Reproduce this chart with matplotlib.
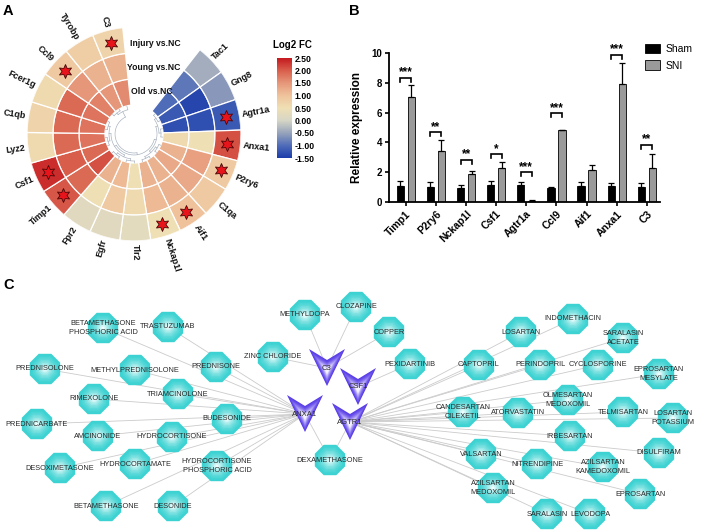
import numpy as np
import matplotlib
matplotlib.use('Agg')
import matplotlib.pyplot as plt
from matplotlib.colors import LinearSegmentedColormap, Normalize, to_rgb
from matplotlib.patches import Polygon
import matplotlib.cm as cm

plt.rcParams['font.family'] = ['Liberation Sans', 'DejaVu Sans']

# ---------------- Panel A data (Log2 FC) ----------------
heat_genes = ['Tac1', 'Gng8', 'Agtr1a', 'Anxa1', 'P2ry6', 'C1qa', 'Aif1', 'Nckap1l',
              'Tlr2', 'Egfr', 'Fpr2', 'Timp1', 'Csf1', 'Lyz2', 'C1qb', 'Fcer1g',
              'Ccl9', 'Tyrobp', 'C3']
injury_fc = [-0.4, -0.6, -1.2, 2.1, 0.9, 0.9, 1.0, 0.5, 0.25, 0.2, 0.2, 2.05, 2.35,
             0.6, 0.7, 0.6, 0.9, 0.8, 0.7]
young_fc = [-0.9, -1.4, -1.3, 0.5, 1.4, 1.3, 1.2, 1.1, 0.6, 0.9, 0.5, 1.9, 2.0,
            1.9, 1.9, 1.9, 1.5, 1.2, 1.2]
old_fc = [-1.0, -1.2, -1.3, 0.6, 1.2, 1.3, 1.2, 1.2, 0.5, 1.1, 1.2, 2.1, 1.9,
          1.8, 1.8, 1.8, 1.7, 1.5, 1.6]
starred = ['Agtr1a', 'Anxa1', 'P2ry6', 'Aif1', 'Nckap1l', 'Timp1', 'Csf1', 'Ccl9', 'C3']
comparisons = ['Old vs.NC', 'Young vs.NC', 'Injury vs.NC']
cbar_ticks = [-1.5, -1.0, -0.5, 0.0, 0.5, 1.0, 1.5, 2.0, 2.5]

# ---------------- Panel B data (qPCR) ----------------
qpcr_genes = ['Timp1', 'P2ry6', 'Nckap1l', 'Csf1', 'Agtr1a', 'Ccl9', 'Aif1', 'Anxa1', 'C3']
sham_mean = [1.1, 1.0, 0.95, 1.15, 1.15, 0.97, 1.05, 1.05, 1.0]
sham_sd = [0.3, 0.35, 0.17, 0.25, 0.2, 0.04, 0.3, 0.25, 0.28]
sni_mean = [7.05, 3.45, 1.9, 2.25, 0.08, 4.8, 2.15, 7.9, 2.3]
sni_sd = [0.8, 0.72, 0.2, 0.45, 0.03, 0.06, 0.3, 1.45, 0.95]
sig_marks = ['***', '**', '**', '*', '***', '***', '', '***', '**']
bracket_levels = [8.35, 4.68, 2.84, 3.22, 2.01, 5.97, None, 9.89, 3.85]

# ---------------- Panel C data (drug-gene network) ----------------
anxa1_drugs = ['BETAMETHASONE\nPHOSPHORIC ACID', 'TRASTUZUMAB', 'PREDNISONE', 'PREDNISOLONE',
               'METHYLPREDNISOLONE', 'TRIAMCINOLONE', 'RIMEXOLONE', 'BUDESONIDE',
               'PREDNICARBATE', 'AMCINONIDE', 'HYDROCORTISONE', 'DESOXIMETASONE',
               'HYDROCORTAMATE', 'HYDROCORTISONE\nPHOSPHORIC ACID', 'BETAMETHASONE',
               'DESONIDE', 'DEXAMETHASONE']
c3_drugs = ['ZINC CHLORIDE', 'METHYLDOPA', 'CLOZAPINE', 'COPPER']
csf1_drugs = ['PEXIDARTINIB']
agtr1_drugs = ['DEXAMETHASONE', 'LOSARTAN', 'INDOMETHACIN', 'SARALASIN\nACETATE', 'CAPTOPRIL',
               'PERINDOPRIL', 'CYCLOSPORINE', 'EPROSARTAN\nMESYLATE', 'OLMESARTAN\nMEDOXOMIL',
               'CANDESARTAN\nCILEXETIL', 'ATORVASTATIN', 'TELMISARTAN', 'LOSARTAN\nPOTASSIUM',
               'IRBESARTAN', 'DISULFIRAM', 'VALSARTAN', 'NITRENDIPINE',
               'AZILSARTAN\nKAMEDOXOMIL', 'AZILSARTAN\nMEDOXOMIL', 'EPROSARTAN',
               'SARALASIN', 'LEVODOPA']
target_genes = ['C3', 'CSF1', 'ANXA1', 'AGTR1']

# network layout (pixel coordinates of node centres)
layout = {
    'C3': (327, 368), 'CSF1': (358, 387), 'ANXA1': (305, 414), 'AGTR1': (350, 422),
    'BETAMETHASONE\nPHOSPHORIC ACID': (103, 328), 'TRASTUZUMAB': (168, 327),
    'PREDNISONE': (216, 367), 'ZINC CHLORIDE': (273, 357), 'METHYLDOPA': (305, 315),
    'CLOZAPINE': (356, 307), 'COPPER': (389, 332), 'PEXIDARTINIB': (410, 364),
    'PREDNISOLONE': (45, 369), 'METHYLPREDNISOLONE': (135, 370), 'TRIAMCINOLONE': (178, 394),
    'RIMEXOLONE': (94, 399), 'BUDESONIDE': (227, 419), 'PREDNICARBATE': (37, 424),
    'AMCINONIDE': (98, 436), 'HYDROCORTISONE': (172, 437), 'DEXAMETHASONE': (330, 460),
    'DESOXIMETASONE': (60, 468), 'HYDROCORTAMATE': (135, 464),
    'HYDROCORTISONE\nPHOSPHORIC ACID': (217, 466), 'BETAMETHASONE': (106, 506),
    'DESONIDE': (173, 506),
    'LOSARTAN': (521, 332), 'INDOMETHACIN': (573, 319), 'SARALASIN\nACETATE': (623, 338),
    'CAPTOPRIL': (479, 365), 'PERINDOPRIL': (540, 365), 'CYCLOSPORINE': (598, 365),
    'EPROSARTAN\nMESYLATE': (659, 374), 'OLMESARTAN\nMEDOXOMIL': (568, 400),
    'CANDESARTAN\nCILEXETIL': (463, 412), 'ATORVASTATIN': (518, 413), 'TELMISARTAN': (623, 412),
    'LOSARTAN\nPOTASSIUM': (673, 418), 'IRBESARTAN': (570, 436), 'DISULFIRAM': (659, 453),
    'VALSARTAN': (481, 454), 'NITRENDIPINE': (537, 464), 'AZILSARTAN\nKAMEDOXOMIL': (603, 467),
    'AZILSARTAN\nMEDOXOMIL': (493, 488), 'EPROSARTAN': (640, 494), 'SARALASIN': (547, 514),
    'LEVODOPA': (590, 514),
}

W, H = 708, 531
fig = plt.figure(figsize=(W / 100, H / 100), dpi=100)


def fx(px):
    return px / W


def fy(py):
    return 1 - py / H


# ======================= Panel C (drawn first, underneath) =======================
axC = fig.add_axes([0, 0, 1, (H - 280) / H])
axC.set_xlim(0, W)
axC.set_ylim(H, 280)
axC.axis('off')

edges = ([(d, 'ANXA1') for d in anxa1_drugs] + [(d, 'C3') for d in c3_drugs] +
         [(d, 'CSF1') for d in csf1_drugs] + [(d, 'AGTR1') for d in agtr1_drugs])
for d, g in edges:
    (x1, y1), (x2, y2) = layout[d], layout[g]
    axC.plot([x1, x2], [y1, y2], color='#cbcbcb', lw=0.6, zorder=1)

cyan_out = np.array(to_rgb('#3cd2d2'))
cyan_in = np.array(to_rgb('#eefcfc'))
ang = np.deg2rad(22.5 + 45 * np.arange(8))
oct_r = 15.2 / np.cos(np.deg2rad(22.5))
drugs = list(dict.fromkeys(anxa1_drugs + c3_drugs + csf1_drugs + agtr1_drugs))
nl = 10
for d in drugs:
    x, y = layout[d]
    for k in range(nl):
        s = 1 - k / nl
        t = (k / (nl - 1)) ** 1.6
        col = cyan_out * (1 - t) + cyan_in * t
        pts = np.column_stack([x + oct_r * s * np.cos(ang), y + oct_r * s * np.sin(ang)])
        axC.add_patch(Polygon(pts, closed=True, facecolor=col, edgecolor='none', zorder=2))
    axC.text(x, y, d, ha='center', va='center', fontsize=5.3, color='#2a2a2a',
             linespacing=1.35, zorder=5)

purple_out = np.array(to_rgb('#5a3ee8'))
purple_in = np.array(to_rgb('#f4f2ff'))
vshape = np.array([[-18, -19], [0, -8], [18, -19], [0, 18]], dtype=float)
vcen = np.array([0, 3.0])
for g in target_genes:
    x, y = layout[g]
    for k in range(nl):
        s = 1 - 0.88 * k / nl
        t = (k / (nl - 1)) ** 1.5
        col = purple_out * (1 - t) + purple_in * t
        pts = (vshape - vcen) * s + vcen + np.array([x, y])
        axC.add_patch(Polygon(pts, closed=True, facecolor=col, edgecolor='none', zorder=3))
    axC.text(x, y, g, ha='center', va='center', fontsize=5.5, color='#2a2a2a', zorder=5)

# ======================= Panel A =======================
cmap = LinearSegmentedColormap.from_list('fc', [
    (0.0, '#1c3dac'), (0.125, '#4f6cb8'), (0.25, '#97a3bb'), (0.375, '#d6d6c6'),
    (0.5, '#efdfb4'), (0.625, '#efc39c'), (0.75, '#e6977a'), (0.875, '#d95f4c'),
    (1.0, '#c41a20')])
norm = Normalize(-1.5, 2.5)

R = 107
cx, cy = 134, 134
axA = fig.add_axes([fx(cx - R), fy(cy + R), 2 * R / W, 2 * R / H], projection='polar')
axA.set_ylim(0, R)
axA.axis('off')
n = len(heat_genes)
w = np.deg2rad(16.63)
start = np.deg2rad(52)
thetas = start - (np.arange(n) + 0.5) * w
radii = [29, 55, 81, 107]
for j, vals in enumerate([old_fc, young_fc, injury_fc]):
    axA.bar(thetas, radii[j + 1] - radii[j], width=w, bottom=radii[j],
            color=cmap(norm(np.array(vals))), edgecolor='white', linewidth=0.9, align='center')

star_r = (radii[2] + radii[3]) / 2
for g in starred:
    i = heat_genes.index(g)
    axA.scatter([thetas[i]], [star_r], marker=(6, 1, 0), s=100, color='#e8141c',
                edgecolor='#4a0808', linewidth=0.6, zorder=5)

for i, g in enumerate(heat_genes):
    deg = np.rad2deg(thetas[i])
    deg = (deg + 180) % 360 - 180
    if -90 <= deg <= 90:
        rot, ha = deg, 'left'
    else:
        rot, ha = deg + 180, 'right'
    axA.text(thetas[i], 110, g, rotation=rot, ha=ha, va='center', rotation_mode='anchor',
             fontsize=6.5, fontweight='bold', color='#111111', clip_on=False)

# simple dendrogram inside the ring
nodes = [(t, radii[0]) for t in thetas]
level_r = [27, 25, 23, 21, 19, 17]
lvl = 0
dcol = '#a3adbb'
while len(nodes) > 1:
    nr = level_r[min(lvl, len(level_r) - 1)]
    new_nodes = []
    i = 0
    while i < len(nodes):
        if i + 1 < len(nodes):
            (t1, r1), (t2, r2) = nodes[i], nodes[i + 1]
            axA.plot([t1, t1], [r1, nr], color=dcol, lw=0.45)
            axA.plot([t2, t2], [r2, nr], color=dcol, lw=0.45)
            arc = np.linspace(t1, t2, 20)
            axA.plot(arc, [nr] * 20, color=dcol, lw=0.45)
            new_nodes.append(((t1 + t2) / 2, nr))
            i += 2
        else:
            new_nodes.append(nodes[i])
            i += 1
    nodes = new_nodes
    lvl += 1

for lab, (px, py) in zip(comparisons, [(131, 91), (127, 67), (130, 43)]):
    fig.text(fx(px), fy(py), lab, ha='left', va='center', fontsize=6.2, fontweight='bold',
             color='#111111')

cax = fig.add_axes([fx(277), fy(158), 15 / W, 100 / H])
cb = fig.colorbar(cm.ScalarMappable(norm=norm, cmap=cmap), cax=cax, ticks=cbar_ticks)
cb.outline.set_visible(False)
cb.ax.tick_params(length=0, pad=2)
cb.ax.set_yticklabels(['%.2f' % v for v in cbar_ticks], fontsize=6.2, fontweight='bold')
fig.text(fx(292), fy(45), 'Log2 FC', ha='center', va='center', fontsize=7, fontweight='bold')

# ======================= Panel B =======================
x0, x1 = 389, 660
yb, yt = 202, 53
axB = fig.add_axes([fx(x0), fy(yb), (x1 - x0) / W, (yb - yt) / H])
xs = np.arange(len(qpcr_genes))
off, bw = 0.183, 0.24
axB.bar(xs - off, sham_mean, width=bw, color='black', edgecolor='black', lw=0.6,
        label='Sham', zorder=2)
axB.bar(xs + off, sni_mean, width=bw, color='#9a9a9a', edgecolor='black', lw=0.6,
        label='SNI', zorder=2)
axB.errorbar(xs - off, sham_mean, yerr=[np.zeros(len(xs)), sham_sd], fmt='none',
             ecolor='black', elinewidth=0.9, capsize=2.3, capthick=0.9, zorder=3)
axB.errorbar(xs + off, sni_mean, yerr=[np.zeros(len(xs)), sni_sd], fmt='none',
             ecolor='black', elinewidth=0.9, capsize=2.3, capthick=0.9, zorder=3)
for i, (m, lvl_y) in enumerate(zip(sig_marks, bracket_levels)):
    if not m:
        continue
    a, b = xs[i] - off, xs[i] + off
    axB.plot([a, a, b, b], [lvl_y - 0.27, lvl_y, lvl_y, lvl_y - 0.27], color='black',
             lw=1.2, solid_joinstyle='miter', clip_on=False)
    axB.text(xs[i], lvl_y - 0.05, m, ha='center', va='bottom', fontsize=8.5,
             fontweight='bold', clip_on=False)
axB.set_xlim(-0.56, 8.44)
axB.set_ylim(0, 10)
axB.set_yticks([0, 2, 4, 6, 8, 10])
axB.set_xticks(xs)
axB.set_xticklabels(qpcr_genes, rotation=45, ha='right', rotation_mode='anchor',
                    fontsize=7.5, fontweight='bold')
for lab in axB.get_yticklabels():
    lab.set_fontweight('bold')
    lab.set_fontsize(7)
axB.tick_params(axis='both', direction='out', length=3, width=1.2, pad=2)
for s in ['top', 'right']:
    axB.spines[s].set_visible(False)
for s in ['left', 'bottom']:
    axB.spines[s].set_linewidth(1.3)
axB.set_ylabel('Relative expression', fontsize=8.5, fontweight='bold', labelpad=6)
axB.legend(loc='upper left', bbox_to_anchor=(fx(645), fy(44)), bbox_transform=fig.transFigure,
           frameon=False, fontsize=7.5, handlelength=1.4, handleheight=1.0,
           labelspacing=0.6, handletextpad=0.6, borderaxespad=0, borderpad=0)

# panel letters
fig.text(fx(3), fy(11), 'A', fontsize=10.5, fontweight='bold', va='center')
fig.text(fx(349), fy(11), 'B', fontsize=10.5, fontweight='bold', va='center')
fig.text(fx(3), fy(285), 'C', fontsize=10.5, fontweight='bold', va='center')

fig.savefig('out.png', dpi=100)
